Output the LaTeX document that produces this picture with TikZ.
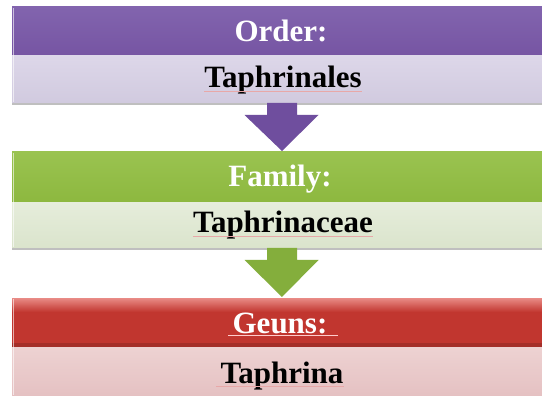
\documentclass[tikz,border=0pt]{standalone}
\usepackage{fontspec}
\setmainfont{Liberation Serif}
\usetikzlibrary{calc}
\definecolor{purpH}{HTML}{7655A3}
\definecolor{purpHt}{HTML}{8264AE}
\definecolor{purpB}{HTML}{D1CADF}
\definecolor{purpBt}{HTML}{DDD7E9}
\definecolor{greenH}{HTML}{8DB83F}
\definecolor{greenHt}{HTML}{9AC350}
\definecolor{greenB}{HTML}{DAE4CC}
\definecolor{greenBt}{HTML}{E6EDDB}
\definecolor{redH}{HTML}{C1362F}
\definecolor{redHt}{HTML}{E98B86}
\definecolor{redB}{HTML}{E5C1C2}
\definecolor{redBt}{HTML}{EDD2D2}
\definecolor{arrP}{HTML}{6F4E9E}
\definecolor{arrG}{HTML}{84AE3C}
\definecolor{ulred}{HTML}{E8A8A8}
\tikzset{
  hdrbox/.style={draw=none, minimum width=540pt, inner sep=0pt, outer sep=0pt},
  bandbox/.style={draw=none, minimum width=540pt, inner sep=0pt, outer sep=0pt},
  hdrtext/.style={anchor=base, inner sep=0pt, text=white, font=\fontsize{31}{36}\selectfont\bfseries},
  bandtext/.style={anchor=base, inner sep=0pt, text=black, font=\fontsize{31}{36}\selectfont\bfseries},
  uline/.style={ulred, line width=0.7pt},
  shadowline/.style={black!25, line width=1.5pt},
  bevel/.style={white, opacity=0.6, line width=1.5pt},
}
\begin{document}
\begin{tikzpicture}[x=1pt,y=-1pt]
\useasboundingbox (0,0) rectangle (542,396);
\fill[white] (0,0) rectangle (542,396);
\clip (0,0) rectangle (542,396);

% ---- Order
\node[bandbox, minimum height=48pt, top color=purpBt, bottom color=purpB] (b1) at (282,79) {};
\node[hdrbox, minimum height=48pt, top color=purpHt, bottom color=purpH] (h1) at (282,31) {};
\draw[shadowline] ($(b1.south west)+(0,1)$) -- ($(b1.south east)+(0,1)$);
\draw[bevel] ($(h1.north west)+(1.5,1)$) -- ($(b1.south west)+(1.5,-1)$);
\node[hdrtext] (t1) at (281,42) {Order:};
\node[bandtext] (s1) at (283,88) {Taphrinales};
\draw[uline] ($(s1.base west)+(0,3)$) -- ($(s1.base east)+(0,3)$);

% ---- Family
\node[bandbox, minimum height=46pt, top color=greenBt, bottom color=greenB] (b2) at (282,225) {};
\node[hdrbox, minimum height=50pt, top color=greenHt, bottom color=greenH] (h2) at (282,177) {};
\draw[shadowline] ($(b2.south west)+(0,1)$) -- ($(b2.south east)+(0,1)$);
\draw[bevel] ($(h2.north west)+(1.5,1)$) -- ($(b2.south west)+(1.5,-1)$);
\node[hdrtext] (t2) at (280,186) {Family:};
\node[bandtext] (s2) at (283,233) {Taphrinaceae};
\draw[uline] ($(s2.base west)+(0,3)$) -- ($(s2.base east)+(0,3)$);

% ---- Geuns
\node[bandbox, minimum height=49pt, top color=redBt, bottom color=redB] (b3) at (282,371.5) {};
\node[hdrbox, minimum height=49pt, fill=redH] (h3) at (282,322.5) {};
\fill[top color=redHt, bottom color=redH] (h3.north west) rectangle ($(h3.north east)+(0,14)$);
\fill[redH!85!black] ($(h3.south west)+(0,-4)$) rectangle (h3.south east);
\draw[bevel] ($(h3.north west)+(1.5,1)$) -- ($(b3.south west)+(1.5,-1)$);
\node[hdrtext] (t3) at (280,333) {Geuns:};
\node[bandtext] (s3) at (282,383) {Taphrina};
\draw[uline, white!80!red] ($(t3.base west)+(-4,2)$) -- ($(t3.base east)+(10,2)$);
\draw[uline] ($(s3.base west)+(-4,3)$) -- ($(s3.base east)+(0,3)$);

% ---- arrows
\fill[arrP] ($(b1.south)+(-15,0)$) -- ($(b1.south)+(15,0)$) -- ++(0,12)
  -- ++(21.5,0) -- ($(h2.north)+(0,-1)$) -- ($(b1.south)+(-37.5,12)$)
  -- ($(b1.south)+(-15,12)$) -- cycle;
\fill[arrG] ($(b2.south)+(-15,0)$) -- ($(b2.south)+(15,0)$) -- ++(0,12)
  -- ++(21.5,0) -- ($(h3.north)+(0,-1)$) -- ($(b2.south)+(-37.5,12)$)
  -- ($(b2.south)+(-15,12)$) -- cycle;
\end{tikzpicture}
\end{document}
